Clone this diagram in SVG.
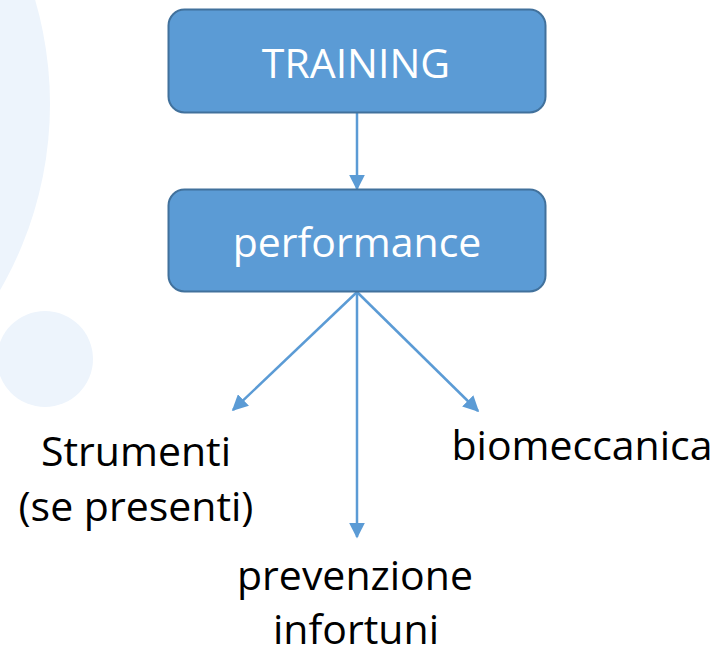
<svg xmlns="http://www.w3.org/2000/svg" width="720" height="657" viewBox="0 0 720 657">
  <style>
    .box { fill: #5B9BD5; stroke: #41719C; stroke-width: 2; }
    .boxtext { font-family: "Open Sans", "Liberation Sans", sans-serif; font-size: 41px; fill: #FFFFFF; text-anchor: middle; }
    .label { font-family: "Open Sans", "Liberation Sans", sans-serif; font-size: 41px; fill: #000000; text-anchor: middle; }
    .conn { stroke: #5B9BD5; stroke-width: 2.5; fill: none; marker-end: url(#arrow); }
    .bg { fill: #EDF4FC; }
  </style>
  <defs>
    <marker id="arrow" viewBox="0 0 10 10" refX="9" refY="5" markerWidth="6.4" markerHeight="6.4" markerUnits="strokeWidth" orient="auto">
      <path d="M0,0 L10,5 L0,10 Z" fill="#5B9BD5"/>
    </marker>
  </defs>
  <rect width="720" height="657" fill="#FFFFFF"/>
  <g id="background">
    <circle class="bg" cx="-322" cy="104" r="372"/>
    <circle class="bg" cx="45" cy="359" r="48"/>
  </g>
  <g id="connectors">
    <line class="conn" x1="357" y1="113" x2="357" y2="189"/>
    <line class="conn" x1="357" y1="292" x2="233" y2="410"/>
    <line class="conn" x1="357" y1="292" x2="357" y2="537"/>
    <line class="conn" x1="357" y1="292" x2="478" y2="411"/>
  </g>
  <g id="training">
    <rect class="box" x="168.5" y="9.5" width="377" height="103" rx="16"/>
    <text class="boxtext" x="356" y="78">TRAINING</text>
  </g>
  <g id="performance">
    <rect class="box" x="168.5" y="189.5" width="377" height="102" rx="16"/>
    <text class="boxtext" x="357" y="257">performance</text>
  </g>
  <g id="strumenti">
    <text class="label" x="136" y="466">Strumenti</text>
    <text class="label" x="136" y="521">(se presenti)</text>
  </g>
  <g id="biomeccanica">
    <text class="label" x="582" y="460">biomeccanica</text>
  </g>
  <g id="prevenzione">
    <text class="label" x="355" y="590">prevenzione</text>
    <text class="label" x="356" y="644">infortuni</text>
  </g>
</svg>
